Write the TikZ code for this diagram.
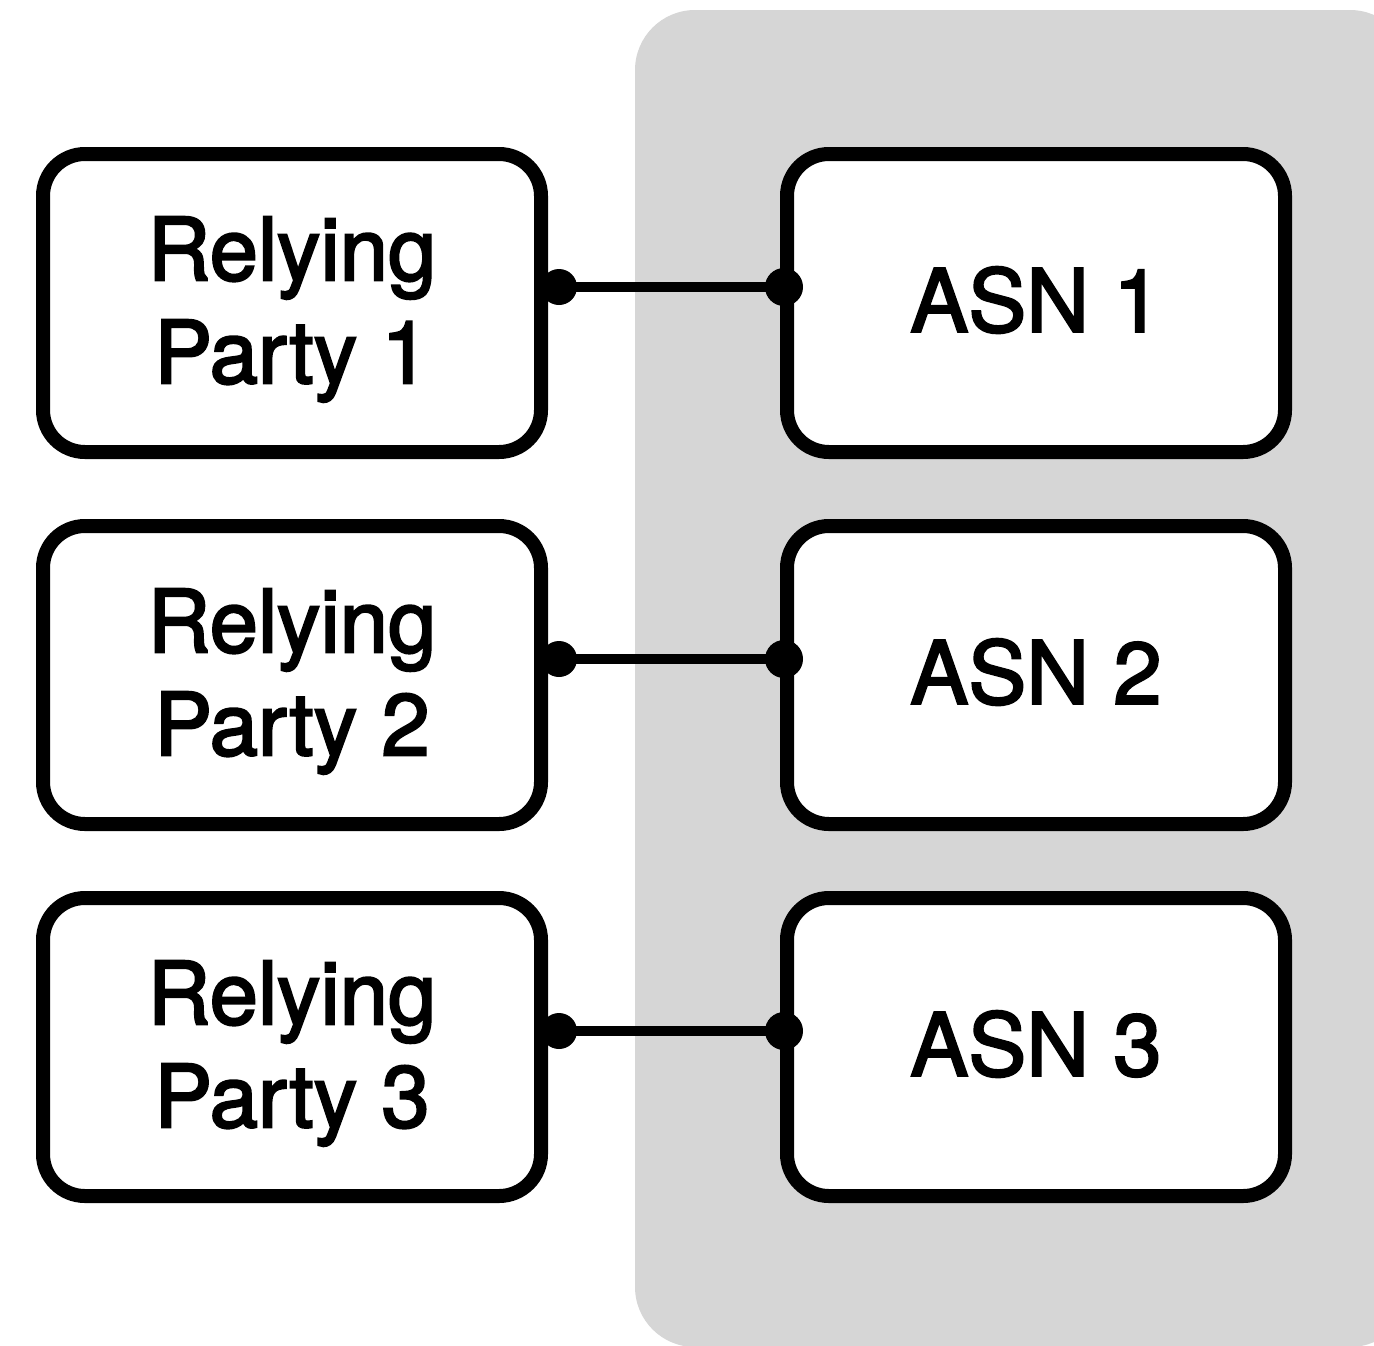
\documentclass[tikz,border=0pt]{standalone}
\usepackage{fontspec}
\setmainfont[FakeBold=2.5]{TeX Gyre Heros}
\definecolor{panelgray}{RGB}{214,214,214}
\begin{document}
\begin{tikzpicture}[x=0.5pt,y=-0.5pt,
  box/.style={draw=black, line width=7pt, rounded corners=21pt, fill=white,
    minimum width=249pt, minimum height=149pt, outer sep=0pt, inner sep=0pt},
  lbl/.style={inner sep=0pt, align=center, font=\fontsize{43.5}{51.5}\selectfont},
  conn/.style={line width=5pt},
  dot/.style={fill=black}]
\useasboundingbox (0,0) rectangle (1374,1345);
% shaded region behind the ASN column
\fill[panelgray, rounded corners=30pt] (635,10) rectangle (1410,1347);
% relying parties
\node[box] (rp1) at (292,303) {};
\node[box] (rp2) at (292,675) {};
\node[box] (rp3) at (292,1047) {};
\node[lbl] (rp1t) at ([yshift=-3.25pt]rp1.center) {Relying\\Party 1};
\node[lbl] (rp2t) at ([yshift=-3.25pt]rp2.center) {Relying\\Party 2};
\node[lbl] (rp3t) at ([yshift=-3.25pt]rp3.center) {Relying\\Party 3};
% autonomous systems
\node[box] (asn1) at (1036,303) {};
\node[box] (asn2) at (1036,675) {};
\node[box] (asn3) at (1036,1047) {};
\node[lbl] (asn1t) at ([yshift=1.5pt]asn1.center) {ASN 1};
\node[lbl] (asn2t) at ([yshift=1.5pt]asn2.center) {ASN 2};
\node[lbl] (asn3t) at ([yshift=1.5pt]asn3.center) {ASN 3};
% links between each party and its ASN
\foreach \i in {1,2,3}{
  \coordinate (l\i) at ([xshift=9pt,yshift=8pt]rp\i.east);
  \coordinate (r\i) at ([xshift=-1.5pt,yshift=8pt]asn\i.west);
  \draw[conn] (l\i) -- (r\i);
  \fill[dot] (l\i) circle (9pt);
  \fill[dot] (r\i) circle (9.5pt);
}
\end{tikzpicture}
\end{document}
